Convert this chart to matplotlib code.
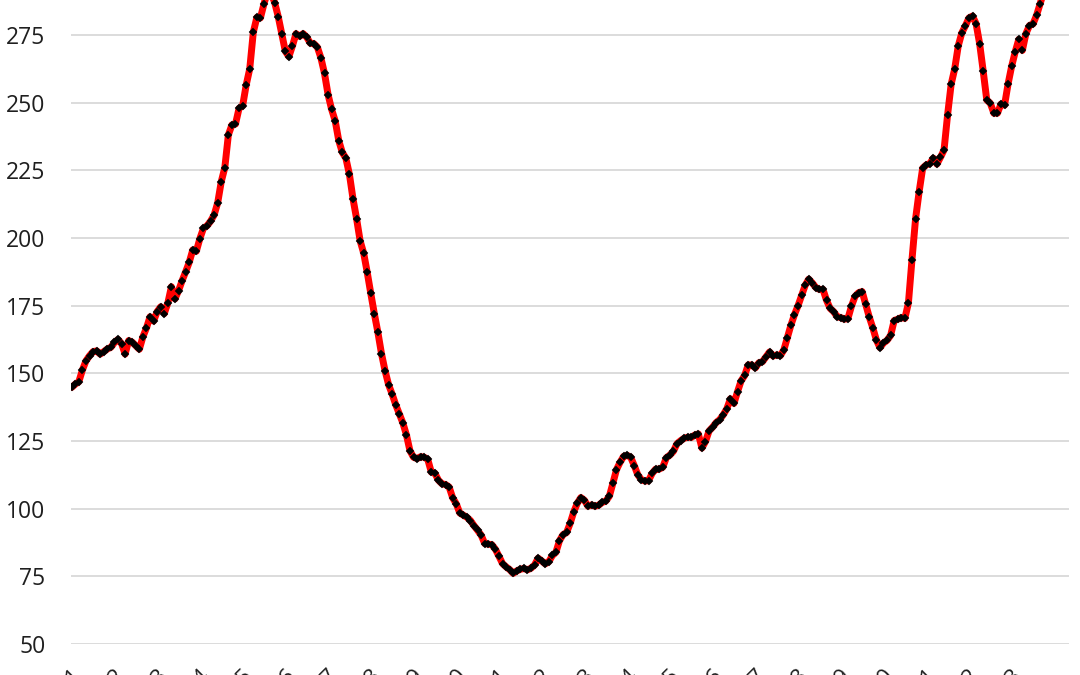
import matplotlib
matplotlib.use("Agg")
import matplotlib.pyplot as plt
import numpy as np

# ---- data ----
values = [
    144.8, 146.0, 146.9, 151.2, 154.6, 156.5, 158.0, 158.3, 157.1, 158.0,
    159.0, 159.6, 161.4, 162.5, 161.0, 157.1, 162.1, 161.5, 160.2, 158.9,
    163.5, 166.8, 170.9, 169.3, 172.8, 174.6, 172.1, 176.0, 182.0, 177.5,
    180.5, 184.2, 187.5, 191.0, 195.6, 195.1, 199.8, 203.6, 204.5, 206.2,
    208.5, 213.0, 220.8, 226.0, 238.1, 241.8, 242.1, 247.9, 248.8, 256.5,
    262.5, 276.0, 281.5, 281.3, 286.5, 291.0, 290.5, 287.0, 281.8, 275.5,
    269.0, 267.0, 271.0, 275.5, 274.5, 275.5, 274.2, 272.0, 271.8, 270.5,
    266.5, 260.8, 253.0, 247.5, 243.3, 236.0, 231.6, 229.5, 223.5, 214.5,
    207.2, 199.0, 194.4, 187.3, 179.5, 172.0, 165.1, 157.3, 151.0, 145.8,
    142.3, 138.4, 135.0, 131.7, 127.3, 121.4, 119.0, 118.5, 119.2, 119.0,
    118.2, 113.5, 113.1, 110.5, 109.2, 108.9, 108.0, 104.0, 101.8, 98.4,
    97.6, 96.8, 95.6, 93.7, 92.0, 90.2, 87.1, 86.9, 86.7, 85.0,
    82.4, 79.7, 78.5, 77.5, 76.1, 77.0, 77.6, 77.9, 77.4, 78.0,
    79.2, 81.7, 80.7, 79.6, 80.4, 82.7, 83.9, 88.2, 90.4, 91.2,
    94.6, 98.8, 102.0, 104.1, 103.1, 100.9, 101.4, 100.9, 101.3, 102.3,
    102.8, 104.6, 109.4, 114.4, 117.1, 119.3, 119.7, 119.0, 115.9, 112.5,
    110.7, 110.2, 110.3, 113.0, 114.6, 114.6, 115.3, 118.8, 119.8, 121.2,
    124.0, 125.1, 126.0, 126.4, 126.3, 127.2, 127.6, 122.4, 124.8, 128.7,
    130.1, 131.8, 132.9, 134.7, 136.9, 140.6, 138.9, 143.2, 147.2, 149.2,
    153.1, 153.1, 152.0, 153.9, 154.3, 156.1, 157.9, 156.4, 156.8, 156.5,
    158.6, 163.2, 167.8, 171.7, 175.0, 178.8, 182.5, 184.8, 183.4, 181.7,
    181.0, 181.0, 177.0, 174.0, 172.8, 170.9, 170.6, 170.0, 170.2, 174.8,
    178.4, 179.8, 180.2, 175.5, 170.8, 166.8, 162.3, 159.5, 161.2, 162.2,
    164.0, 169.5, 170.0, 170.6, 170.3, 176.0, 192.0, 207.0, 217.0, 225.8,
    227.0, 227.5, 229.5, 227.3, 229.8, 232.5, 245.5, 256.8, 262.5, 271.0,
    275.8, 278.4, 281.3, 282.0, 279.2, 271.8, 261.7, 251.0, 249.8, 246.1,
    246.1, 249.5, 249.1, 257.0, 263.5, 268.8, 273.4, 269.3, 275.5, 278.5,
    279.1, 282.3, 286.5, 291.0, 295.0,
]
tick_labels = [str(y) for y in range(2001, 2024)]
y_ticks = [50, 75, 100, 125, 150, 175, 200, 225, 250, 275]

# ---- figure ----
fig = plt.figure(figsize=(10.8, 6.75), dpi=100)
ax = fig.add_axes([71 / 1080, 31 / 675, 998 / 1080, 644 / 675])

x = np.arange(len(values))
ax.plot(x, values, color="#ff0000", lw=5.0, solid_joinstyle="round",
        solid_capstyle="round", zorder=3)
ax.plot(x, values, ls="none", marker="D", ms=4.0, mfc="black", mec="black",
        mew=0.3, zorder=4)

ax.set_xlim(-0.2, 280.1)
ax.set_ylim(50, 287.93)

ax.set_yticks(y_ticks)
ax.yaxis.grid(True, color="#d9d9d9", lw=1.3)
ax.set_axisbelow(True)
for s in ax.spines.values():
    s.set_visible(False)

ax.tick_params(axis="y", length=0, pad=18.5, labelsize=16.5, labelcolor="#1f1f1f")
for lab in ax.get_yticklabels():
    lab.set_fontfamily(["Open Sans", "DejaVu Sans"])

ax.set_xticks(np.arange(0, 12 * len(tick_labels), 12))
ax.set_xticklabels(tick_labels, rotation=45, ha="right", rotation_mode="anchor",
                   fontsize=16, color="#1f1f1f", family=["Open Sans", "DejaVu Sans"])
ax.tick_params(axis="x", length=0, pad=15)

fig.savefig("out.png", dpi=100)
